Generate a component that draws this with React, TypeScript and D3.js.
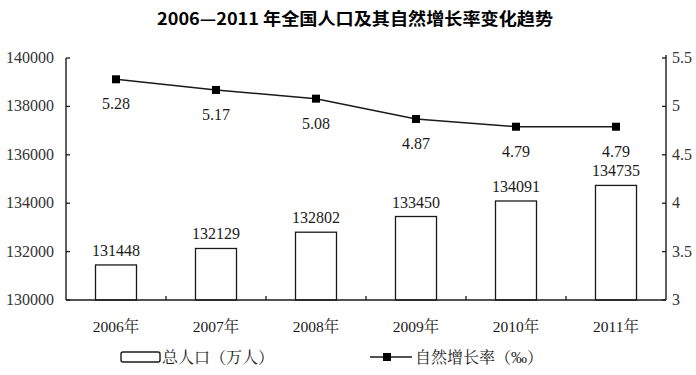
import React from "react";
import * as d3 from "d3";

const years = ["2006年", "2007年", "2008年", "2009年", "2010年", "2011年"];
const population = [131448, 132129, 132802, 133450, 134091, 134735];
const growthRate = [5.28, 5.17, 5.08, 4.87, 4.79, 4.79];
const rateLabels = ["5.28", "5.17", "5.08", "4.87", "4.79", "4.79"];
const leftTicks = [130000, 132000, 134000, 136000, 138000, 140000];
const rightTicks = [3, 3.5, 4, 4.5, 5, 5.5];
const title = "2006—2011 年全国人口及其自然增长率变化趋势";
const legendBar = "总人口（万人）";
const legendLine = "自然增长率（‰）";

const W = 696;
const H = 375;
const left = 66;
const right = 666;
const top = 58;
const bottom = 300;
const ink = "#1a1a1a";
const serif = { fontFamily: "'Liberation Serif', 'Noto Serif CJK SC', serif" };
const cjkSerif = { fontFamily: "'Liberation Serif', 'Noto Serif CJK SC', serif" };
const titleFont = { fontFamily: "'Noto Sans CJK SC', sans-serif", fontWeight: 700 };

export default function App() {
  const x = d3.scaleBand<string>().domain(years).range([left, right]).paddingInner(0.59).paddingOuter(0.295);
  const yL = d3.scaleLinear().domain([130000, 140000]).range([bottom, top]);
  const yR = d3.scaleLinear().domain([3, 5.5]).range([bottom, top]);
  const band = x.step();
  const bw = x.bandwidth();
  const cx = (d: string) => (x(d) as number) + bw / 2;

  const line = d3
    .line<number>()
    .x((_, i) => cx(years[i]))
    .y((d) => yR(d));

  const boundaries = d3.range(1, years.length).map((i) => left + band * i);

  return (
    <svg width={W} height={H} style={{ position: "absolute", left: 0, top: 0, background: "#fff" }}>
      <rect x={0} y={0} width={W} height={H} fill="#fff" />
      <text
        x={355}
        y={25}
        textAnchor="middle"
        style={titleFont}
        fontSize={16.5}
        fill="#000"
        textLength={396}
        lengthAdjust="spacingAndGlyphs"
      >
        {title}
      </text>

      {/* bars */}
      {population.map((v, i) => (
        <rect
          key={"b" + i}
          x={x(years[i])}
          y={yL(v)}
          width={bw}
          height={bottom - yL(v)}
          fill="#fff"
          stroke={ink}
          strokeWidth={1.3}
        />
      ))}
      {population.map((v, i) => (
        <text key={"bl" + i} x={cx(years[i])} y={yL(v) - 9} textAnchor="middle" style={serif} fontSize={16} fill={ink}>
          {v}
        </text>
      ))}

      {/* axes */}
      <line x1={left} y1={top} x2={left} y2={bottom} stroke={ink} strokeWidth={1.4} />
      <line x1={right} y1={top - 3} x2={right} y2={bottom} stroke={ink} strokeWidth={1.4} />
      <line x1={left} y1={bottom} x2={right} y2={bottom} stroke={ink} strokeWidth={1.6} />
      {leftTicks.map((t) => (
        <g key={"lt" + t}>
          <line x1={left} y1={yL(t)} x2={left + 4} y2={yL(t)} stroke={ink} strokeWidth={1.3} />
          <text x={54} y={yL(t) + 5} textAnchor="end" style={serif} fontSize={16} fill="#333">
            {t}
          </text>
        </g>
      ))}
      {rightTicks.map((t) => (
        <g key={"rt" + t}>
          <line x1={right - 4} y1={yR(t)} x2={right} y2={yR(t)} stroke={ink} strokeWidth={1.3} />
          <text x={672} y={yR(t) + 5} textAnchor="start" style={serif} fontSize={16} fill="#333">
            {t}
          </text>
        </g>
      ))}
      {boundaries.map((b, i) => (
        <line key={"xt" + i} x1={b} y1={bottom} x2={b} y2={bottom - 4} stroke={ink} strokeWidth={1.3} />
      ))}
      {years.map((y) => (
        <text key={"xl" + y} x={cx(y)} y={332} textAnchor="middle" style={cjkSerif} fontSize={15.5} fill={ink}>
          {y}
        </text>
      ))}

      {/* line series */}
      <path d={line(growthRate) || ""} fill="none" stroke={ink} strokeWidth={1.5} />
      {growthRate.map((v, i) => (
        <rect key={"m" + i} x={cx(years[i]) - 4} y={yR(v) - 4} width={8} height={8} fill="#000" />
      ))}
      {growthRate.map((v, i) => (
        <text key={"ml" + i} x={cx(years[i])} y={yR(v) + 30} textAnchor="middle" style={serif} fontSize={16} fill={ink}>
          {rateLabels[i]}
        </text>
      ))}

      {/* legend */}
      <rect x={121} y={352} width={39} height={10} rx={2} fill="#fff" stroke={ink} strokeWidth={1.4} />
      <text x={162} y={363} style={cjkSerif} fontSize={16} fill={ink}>
        {legendBar}
      </text>
      <line x1={370} y1={357} x2={412} y2={357} stroke={ink} strokeWidth={1.5} />
      <rect x={383} y={353} width={8} height={8} fill="#000" />
      <text x={415} y={363} style={cjkSerif} fontSize={16} fill={ink}>
        {legendLine}
      </text>
    </svg>
  );
}
